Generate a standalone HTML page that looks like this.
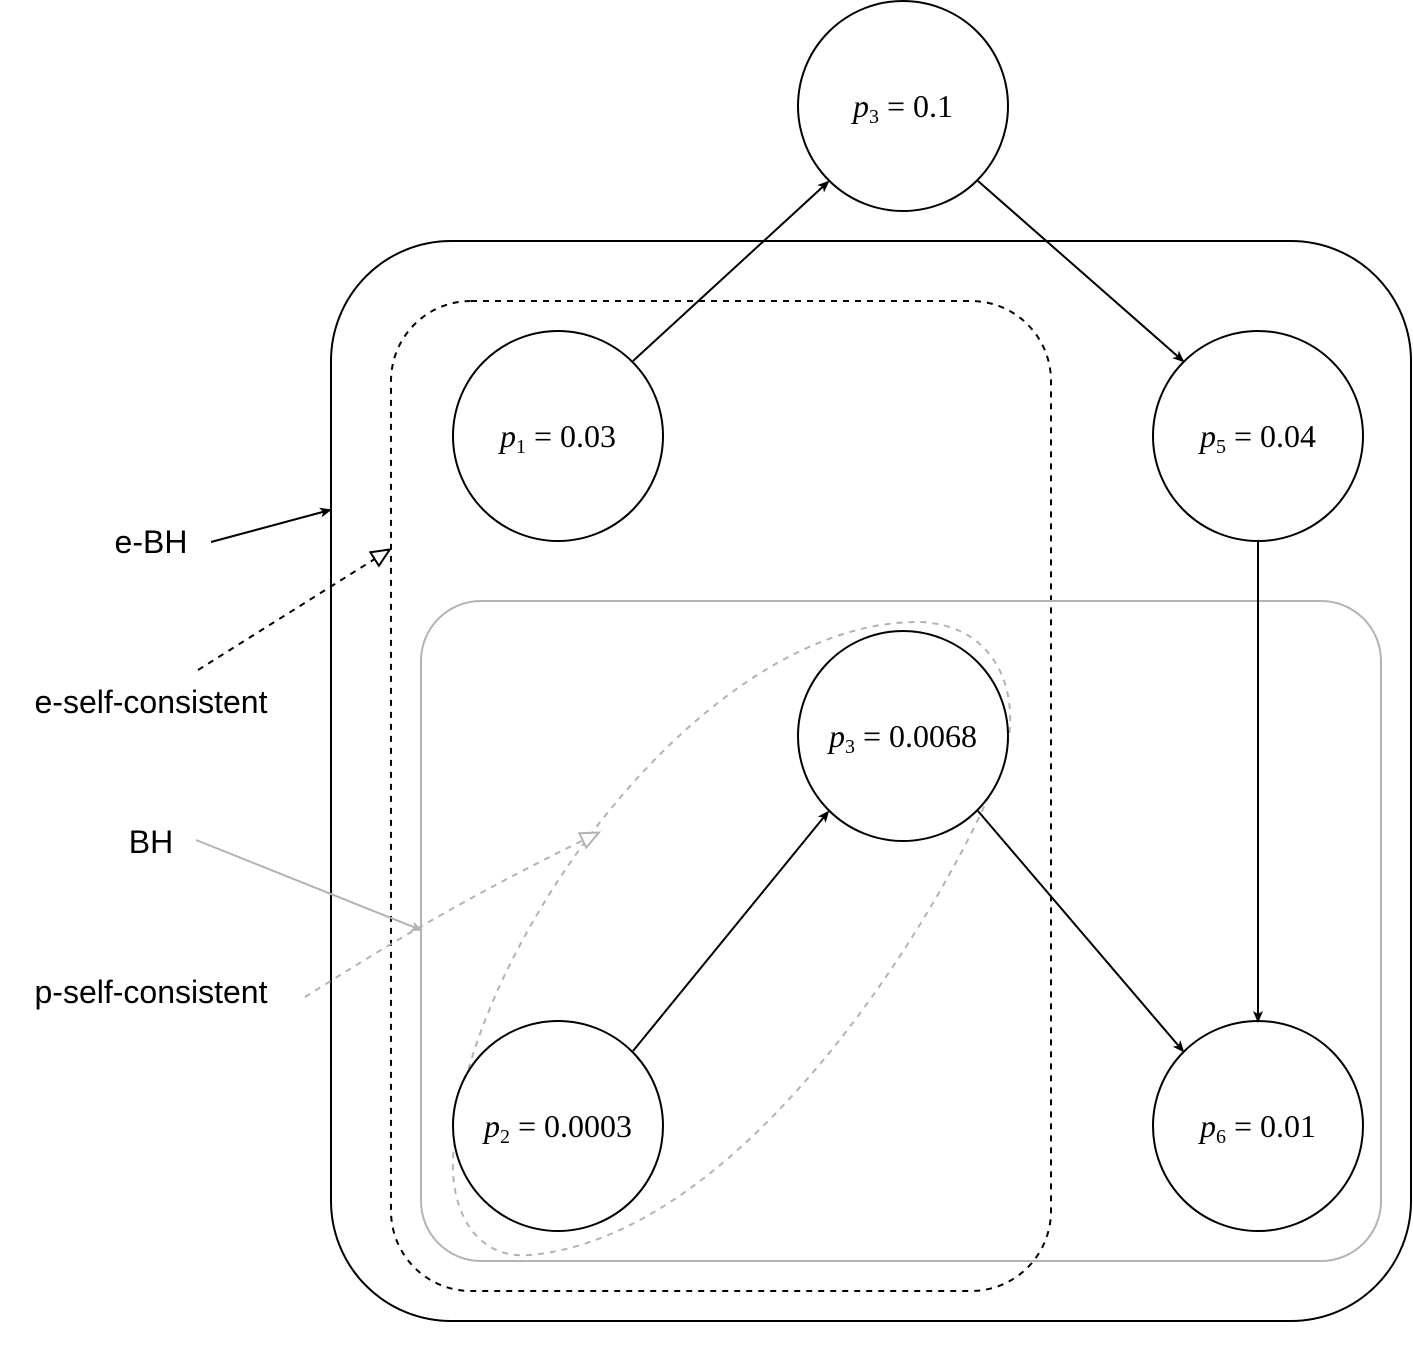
<!DOCTYPE html>
<html><head><meta charset="utf-8"><style>
html,body{margin:0;padding:0;background:#fff;}
svg{display:block;}
.m{font-family:"Liberation Serif",serif;font-size:32px;}
.l{font-family:"Liberation Sans",sans-serif;font-size:32px;}
</style></head><body>
<svg width="1413" height="1350" viewBox="0 0 1413 1350" xmlns="http://www.w3.org/2000/svg">
<defs>
<marker id="ab" markerWidth="12" markerHeight="12" refX="10" refY="5" orient="auto" markerUnits="userSpaceOnUse" viewBox="0 0 12 10">
<path d="M0,0 L12,5 L0,10 L3,5 Z" fill="#000"/></marker>
<marker id="ag" markerWidth="12" markerHeight="12" refX="10" refY="5" orient="auto" markerUnits="userSpaceOnUse" viewBox="0 0 12 10">
<path d="M0,0 L12,5 L0,10 L3,5 Z" fill="#b3b3b3"/></marker>
<marker id="ob" markerWidth="22" markerHeight="22" refX="18" refY="9" orient="auto" markerUnits="userSpaceOnUse" viewBox="0 0 22 18">
<path d="M1,1 L19,9 L1,17 Z" fill="#fff" stroke="#000" stroke-width="2"/></marker>
<marker id="og" markerWidth="22" markerHeight="22" refX="18" refY="9" orient="auto" markerUnits="userSpaceOnUse" viewBox="0 0 22 18">
<path d="M1,1 L19,9 L1,17 Z" fill="#fff" stroke="#b3b3b3" stroke-width="2"/></marker>
</defs>
<rect x="331" y="241" width="1080" height="1080" rx="120" fill="none" stroke="#000" stroke-width="2"/>
<rect x="391" y="301" width="660" height="990" rx="80" fill="none" stroke="#000" stroke-width="2" stroke-dasharray="6,6"/>
<rect x="421" y="601" width="960" height="660" rx="60" fill="none" stroke="#b3b3b3" stroke-width="2"/>
<path d="M455,1140 C470,950 700,620 920,622 C1000,625 1025,700 1002,765 C950,900 750,1235 530,1255 C470,1260 445,1200 455,1140 Z" fill="none" stroke="#b3b3b3" stroke-width="2" stroke-dasharray="6,6"/>
<g fill="#fff" stroke="#000" stroke-width="2">
<circle cx="903" cy="106" r="105"/>
<circle cx="558" cy="436" r="105"/>
<circle cx="1258" cy="436" r="105"/>
<circle cx="903" cy="736" r="105"/>
<circle cx="558" cy="1126" r="105"/>
<circle cx="1258" cy="1126" r="105"/>
</g>
<g stroke="#000" stroke-width="2" fill="none">
<line x1="633" y1="361" x2="828" y2="182" marker-end="url(#ab)"/>
<line x1="978" y1="181" x2="1183" y2="361" marker-end="url(#ab)"/>
<line x1="1258" y1="541" x2="1258" y2="1021" marker-end="url(#ab)"/>
<line x1="633" y1="1051" x2="828" y2="812" marker-end="url(#ab)"/>
<line x1="978" y1="811" x2="1183" y2="1051" marker-end="url(#ab)"/>
<line x1="211" y1="542" x2="330" y2="510" marker-end="url(#ab)"/>
<line x1="198" y1="670" x2="389" y2="550" stroke-dasharray="6,6" marker-end="url(#ob)"/>
</g>
<line x1="196" y1="840" x2="421" y2="930" stroke="#b3b3b3" stroke-width="2" marker-end="url(#ag)"/>
<path d="M305,997 C380,950 460,900 598,833" fill="none" stroke="#b3b3b3" stroke-width="2" stroke-dasharray="6,6" marker-end="url(#og)"/>
<g class="m" text-anchor="middle">
<text x="903" y="117"><tspan font-style="italic">p</tspan><tspan font-size="20" dy="6">3</tspan><tspan dy="-6"> = 0.1</tspan></text>
<text x="558" y="447"><tspan font-style="italic">p</tspan><tspan font-size="20" dy="6">1</tspan><tspan dy="-6"> = 0.03</tspan></text>
<text x="1258" y="447"><tspan font-style="italic">p</tspan><tspan font-size="20" dy="6">5</tspan><tspan dy="-6"> = 0.04</tspan></text>
<text x="903" y="747"><tspan font-style="italic">p</tspan><tspan font-size="20" dy="6">3</tspan><tspan dy="-6"> = 0.0068</tspan></text>
<text x="558" y="1137"><tspan font-style="italic">p</tspan><tspan font-size="20" dy="6">2</tspan><tspan dy="-6"> = 0.0003</tspan></text>
<text x="1258" y="1137"><tspan font-style="italic">p</tspan><tspan font-size="20" dy="6">6</tspan><tspan dy="-6"> = 0.01</tspan></text>
</g>
<g class="l" text-anchor="middle">
<text x="151" y="553">e-BH</text>
<text x="151" y="713">e-self-consistent</text>
<text x="151" y="853">BH</text>
<text x="151" y="1003">p-self-consistent</text>
</g>
</svg>
</body></html>
